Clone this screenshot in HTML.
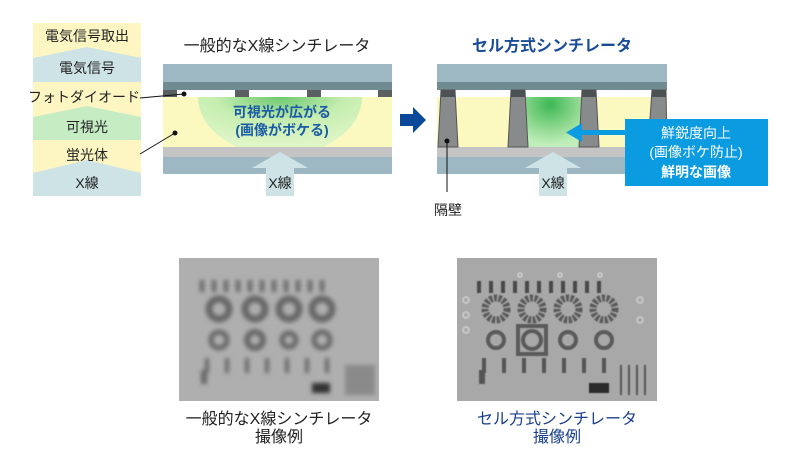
<!DOCTYPE html>
<html><head><meta charset="utf-8"><style>
body{margin:0;background:#fff;}
svg text{font-family:"Liberation Sans","Noto Sans CJK JP",sans-serif;}
</style></head><body>
<svg width="800" height="471" viewBox="0 0 800 471" xmlns="http://www.w3.org/2000/svg">
<defs>
<radialGradient id="g1" cx="0.5" cy="0" r="0.8">
<stop offset="0" stop-color="#6cc870"/><stop offset="0.5" stop-color="#c6eeb0"/><stop offset="1" stop-color="#def5c6"/></radialGradient>
<radialGradient id="g2" cx="0.45" cy="0.15" r="0.8">
<stop offset="0" stop-color="#3db855"/><stop offset="0.6" stop-color="#8fd890"/><stop offset="1" stop-color="#bfeebb"/></radialGradient>
<filter id="bl"><feGaussianBlur stdDeviation="2.2"/></filter>
<filter id="bs"><feGaussianBlur stdDeviation="0.6"/></filter>
</defs>
<rect x="33" y="23" width="108" height="173" fill="#fdf6c3"/>
<polygon points="33,58 87,47 141,58 141,82 33,82" fill="#cde3e6"/>
<polygon points="33,117 87,106 141,117 141,140 33,140" fill="#c6ecc4"/>
<polygon points="33,173 87,160 141,173 141,196 33,196" fill="#cde3e6"/>
<g font-size="14" fill="#222" text-anchor="middle">
<text x="87" y="41">電気信号取出</text>
<text x="87" y="73">電気信号</text>
<text x="84" y="102">フォトダイオード</text>
<text x="87" y="132">可視光</text>
<text x="87" y="160">蛍光体</text>
<text x="87" y="188">X線</text>
</g>
<text x="277" y="51" font-size="16" fill="#222" text-anchor="middle">一般的なX線シンチレータ</text>
<rect x="163" y="64" width="229" height="19" fill="#9db8c2"/>
<rect x="163" y="82" width="229" height="8" fill="#718b93"/>
<rect x="163" y="90" width="14" height="7" fill="#5a5f62"/>
<rect x="235" y="90" width="14" height="7" fill="#5a5f62"/>
<rect x="307" y="90" width="14" height="7" fill="#5a5f62"/>
<rect x="378" y="90" width="14" height="7" fill="#5a5f62"/>
<rect x="163" y="97" width="229" height="50" fill="#fbf8c0"/>
<path d="M198,97 A70,50 0 0 0 362,97 Z" fill="url(#g1)"/>
<rect x="163" y="147" width="229" height="10" fill="#c4c4c4"/>
<rect x="163" y="157" width="229" height="17" fill="#9db8c2"/>
<polygon points="252,168 280,152 308,168 294,168 294,196 266,196 266,168" fill="#cde3e6"/>
<text x="280" y="188" font-size="14" fill="#222" text-anchor="middle">X線</text>
<text x="282" y="117" font-size="14" font-weight="bold" fill="#1a5ba6" text-anchor="middle">可視光が広がる</text>
<text x="282" y="135" font-size="14" font-weight="bold" fill="#1a5ba6" text-anchor="middle">(画像がボケる)</text>
<line x1="140" y1="98" x2="184" y2="94" stroke="#111" stroke-width="1"/>
<circle cx="184" cy="94" r="2.5" fill="#111"/>
<line x1="140" y1="154" x2="175" y2="133" stroke="#111" stroke-width="1"/>
<circle cx="175" cy="133" r="2.5" fill="#111"/>
<polygon points="400,114 413,114 413,107 426,120 413,133 413,126 400,126" fill="#0b4a9a"/>
<text x="552" y="51" font-size="16" font-weight="bold" fill="#1a4d96" text-anchor="middle">セル方式シンチレータ</text>
<rect x="437" y="64" width="230" height="19" fill="#9db8c2"/>
<rect x="437" y="82" width="230" height="8" fill="#718b93"/>
<rect x="437" y="97" width="230" height="50" fill="#fbf8c0"/>
<rect x="524" y="97" width="58" height="50" fill="url(#g2)"/>
<rect x="437" y="147" width="230" height="10" fill="#c4c4c4"/>
<rect x="437" y="157" width="230" height="17" fill="#9db8c2"/>
<g fill="#888b8c" stroke="#555" stroke-width="1">
<polygon points="441,90 455,90 458,147 438,147"/>
<polygon points="511,90 525,90 528,147 508,147"/>
<polygon points="582,90 596,90 599,147 579,147"/>
<polygon points="652,90 666,90 667,147 648,147"/>
</g>
<g fill="#4c5154">
<rect x="441" y="90" width="14" height="7"/><rect x="511" y="90" width="14" height="7"/>
<rect x="582" y="90" width="14" height="7"/><rect x="652" y="90" width="14" height="7"/>
</g>
<polygon points="525,168 553,152 581,168 567,168 567,196 539,196 539,168" fill="#cde3e6"/>
<text x="553" y="188" font-size="14" fill="#222" text-anchor="middle">X線</text>
<line x1="447" y1="141" x2="447" y2="192" stroke="#111" stroke-width="1"/>
<circle cx="447" cy="141" r="2.5" fill="#111"/>
<text x="448" y="215" font-size="14" fill="#222" text-anchor="middle">隔壁</text>
<rect x="625" y="119" width="143" height="67" fill="#0a9be0"/>
<rect x="580" y="130" width="46" height="5" fill="#0a9be0"/>
<polygon points="566,132.5 582,123 582,142" fill="#0a9be0"/>
<g font-size="14" fill="#fff" text-anchor="middle">
<text x="696" y="138">鮮鋭度向上</text>
<text x="696" y="157">(画像ボケ防止)</text>
<text x="696" y="177" font-weight="bold">鮮明な画像</text>
</g>
<g>
<rect x="179" y="258" width="200" height="143" fill="#afafaf"/>
<g filter="url(#bl)">
<g fill="#5e5e5e">
<rect x="200" y="280" width="4" height="12"/><rect x="212" y="280" width="4" height="12"/><rect x="224" y="280" width="4" height="12"/><rect x="236" y="280" width="4" height="12"/><rect x="248" y="280" width="4" height="12"/><rect x="260" y="280" width="4" height="12"/><rect x="272" y="280" width="4" height="12"/><rect x="284" y="280" width="4" height="12"/><rect x="296" y="280" width="4" height="12"/><rect x="308" y="280" width="4" height="12"/><rect x="320" y="280" width="4" height="12"/>
</g>
<g fill="none" stroke="#666" stroke-width="7">
<circle cx="219" cy="309" r="10"/><circle cx="255" cy="309" r="10"/><circle cx="289" cy="309" r="10"/><circle cx="322" cy="309" r="10"/>
<circle cx="219" cy="340" r="8" stroke-width="5"/><circle cx="255" cy="340" r="8" stroke-width="6"/><circle cx="289" cy="340" r="7" stroke-width="5"/><circle cx="322" cy="340" r="8" stroke-width="5"/>
</g>
<g fill="#666">
<rect x="205" y="358" width="4" height="15"/><rect x="225" y="358" width="4" height="15"/><rect x="245" y="358" width="4" height="15"/><rect x="265" y="358" width="4" height="15"/><rect x="285" y="358" width="4" height="15"/><rect x="305" y="358" width="4" height="15"/><rect x="325" y="358" width="4" height="15"/>
<rect x="201" y="370" width="6" height="14"/><rect x="312" y="383" width="18" height="10" fill="#333"/>
<rect x="345" y="365" width="30" height="30" fill="#8a8a8a"/>
</g>
</g>
</g>
<g>
<rect x="457" y="258" width="200" height="143" fill="#a8a8a8"/>
<g filter="url(#bs)">
<g fill="#4a4a4a">
<rect x="477" y="281" width="4" height="12"/><rect x="489" y="281" width="4" height="12"/><rect x="501" y="281" width="4" height="12"/><rect x="513" y="281" width="4" height="12"/><rect x="525" y="281" width="4" height="12"/><rect x="537" y="281" width="4" height="12"/><rect x="549" y="281" width="4" height="12"/><rect x="561" y="281" width="4" height="12"/><rect x="573" y="281" width="4" height="12"/><rect x="585" y="281" width="4" height="12"/><rect x="597" y="281" width="4" height="12"/>
</g>
<g fill="none" stroke="#5a5a5a" stroke-width="7" stroke-dasharray="3 1.5">
<circle cx="496" cy="309" r="11"/><circle cx="532" cy="309" r="11"/><circle cx="568" cy="309" r="11"/><circle cx="604" cy="309" r="11"/>
</g>
<g fill="none" stroke="#5a5a5a" stroke-width="4">
<circle cx="496" cy="340" r="8"/><circle cx="532" cy="340" r="9"/><circle cx="568" cy="340" r="8"/><circle cx="604" cy="340" r="8"/>
<rect x="518" y="326" width="28" height="28"/>
</g>
<g fill="none" stroke="#d0d0d0" stroke-width="1.5">
<circle cx="466" cy="300" r="3"/><circle cx="466" cy="315" r="3"/><circle cx="466" cy="330" r="3"/><circle cx="640" cy="300" r="3"/><circle cx="640" cy="320" r="3"/><circle cx="600" cy="275" r="2"/><circle cx="560" cy="275" r="2"/><circle cx="520" cy="275" r="2"/>
</g>
<g fill="#555">
<rect x="482" y="358" width="4" height="15"/><rect x="502" y="358" width="4" height="15"/><rect x="522" y="358" width="4" height="15"/><rect x="542" y="358" width="4" height="15"/><rect x="562" y="358" width="4" height="15"/><rect x="582" y="358" width="4" height="15"/><rect x="602" y="358" width="4" height="15"/>
<rect x="479" y="370" width="6" height="14"/><rect x="589" y="383" width="20" height="10" fill="#2a2a2a"/>
<rect x="620" y="365" width="2" height="30"/><rect x="628" y="365" width="2" height="30"/><rect x="636" y="365" width="2" height="30"/><rect x="644" y="365" width="2" height="30"/>
</g>
</g>
</g>
<g font-size="16" text-anchor="middle">
<text x="279" y="424" fill="#222">一般的なX線シンチレータ</text>
<text x="279" y="442" fill="#222">撮像例</text>
<text x="557" y="424" fill="#1a3f8c">セル方式シンチレータ</text>
<text x="557" y="442" fill="#1a3f8c">撮像例</text>
</g>
</svg>
</body></html>
